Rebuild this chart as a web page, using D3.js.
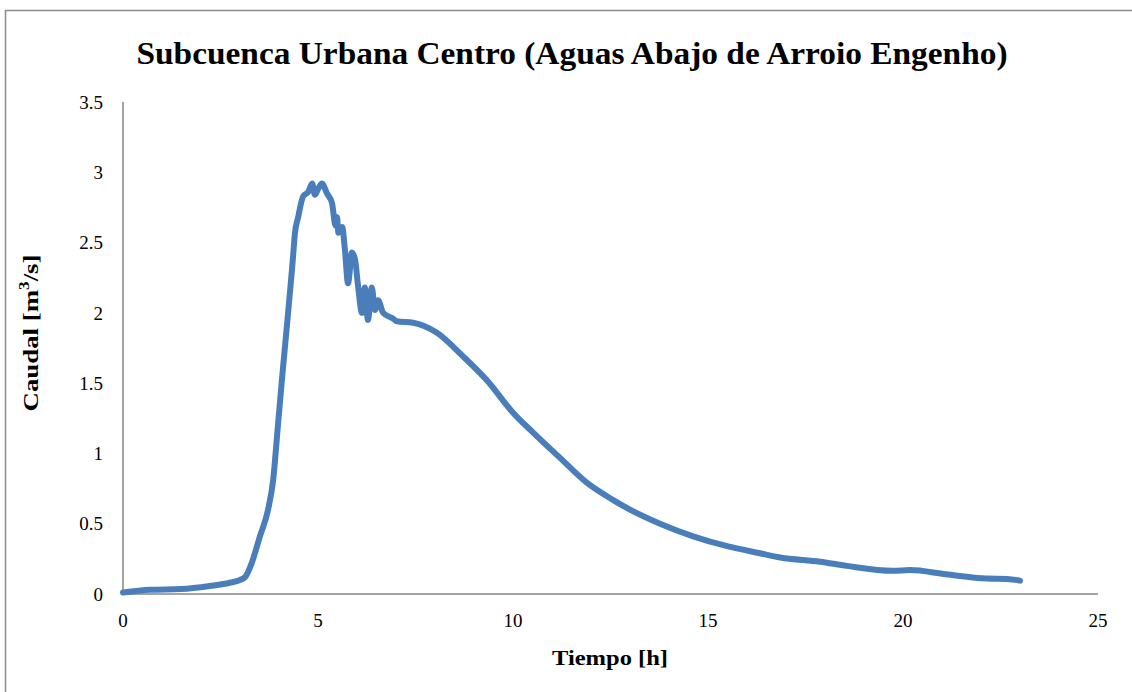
<!DOCTYPE html>
<html><head><meta charset="utf-8">
<script src="https://cdn.jsdelivr.net/npm/d3@7"></script>
<style>body{margin:0;background:#fff}svg{display:block}</style>
</head><body>
<svg id="c" width="1132" height="692"></svg>
<script>
const timeH = [0,0.69,1.5,2.23,2.74,3.0,3.13,3.3,3.51,3.72,3.85,3.97,4.08,4.2,4.33,4.36,4.41,4.49,4.62,4.75,4.85,4.92,5.0,5.1,5.23,5.36,5.45,5.49,5.52,5.62,5.69,5.77,5.87,5.95,6.02,6.13,6.2,6.28,6.38,6.46,6.54,6.67,6.92,7.02,7.44,8.04,8.72,9.33,10.0,10.51,11.2,11.9,12.56,13.0,13.77,14.62,15.49,16.33,16.85,17.87,18.56,19.74,20.18,21.1,22.15,22.67,23.0];
const caudal = [0.01,0.03,0.035,0.057,0.08,0.1,0.12,0.22,0.41,0.6,0.81,1.19,1.54,1.9,2.3,2.4,2.57,2.68,2.83,2.86,2.92,2.84,2.88,2.92,2.85,2.78,2.62,2.68,2.57,2.61,2.45,2.21,2.43,2.38,2.21,2.0,2.18,1.95,2.18,2.02,2.09,2.0,1.96,1.94,1.93,1.86,1.69,1.52,1.29,1.15,0.97,0.79,0.67,0.6,0.5,0.41,0.34,0.29,0.26,0.23,0.2,0.165,0.17,0.14,0.11,0.107,0.095];
const xTicks = [0,5,10,15,20,25];
const yTicks = [0,0.5,1,1.5,2,2.5,3,3.5];
const yTickLabels = ["0","0.5","1","1.5","2","2.5","3","3.5"];
const titleText = "Subcuenca Urbana Centro (Aguas Abajo de Arroio Engenho)";
const xTitle = "Tiempo [h]";

const svg = d3.select("#c");
const font = "'Liberation Serif','DejaVu Serif',serif";
svg.append("rect").attr("x",5.5).attr("y",10.5).attr("width",1140).attr("height",700)
  .attr("fill","#fff").attr("stroke","#8c8c8c").attr("stroke-width",1.5);

const x = d3.scaleLinear().domain([0,25]).range([123,1098]);
const y = d3.scaleLinear().domain([0,3.5]).range([594,102]);

svg.append("line").attr("x1",123).attr("x2",1098).attr("y1",594).attr("y2",594).attr("stroke","#868686").attr("stroke-width",1.5);
svg.append("line").attr("x1",123).attr("x2",123).attr("y1",102).attr("y2",594).attr("stroke","#868686").attr("stroke-width",1.5);

svg.append("g").selectAll("text").data(yTicks).join("text")
  .attr("x",103).attr("y",d=>y(d)).attr("dy","0.35em").attr("text-anchor","end")
  .attr("font-family",font).attr("font-size",19).attr("fill","#000")
  .text((d,i)=>yTickLabels[i]);
svg.append("g").selectAll("text").data(xTicks).join("text")
  .attr("x",d=>x(d)).attr("y",627).attr("text-anchor","middle")
  .attr("font-family",font).attr("font-size",19).attr("fill","#000")
  .text(d=>d);

const line = d3.line().x((d,i)=>x(timeH[i])).y(d=>y(d)).curve(d3.curveMonotoneX);
svg.append("path").datum(caudal).attr("d",line).attr("fill","none")
  .attr("stroke","#4a7ebb").attr("stroke-width",6).attr("stroke-linejoin","round").attr("stroke-linecap","round");

svg.append("text").attr("x",572).attr("y",64).attr("text-anchor","middle")
  .attr("font-family",font).attr("font-weight","bold").attr("font-size",32)
  .attr("textLength",871).attr("lengthAdjust","spacingAndGlyphs").text(titleText);
svg.append("text").attr("x",610).attr("y",665).attr("text-anchor","middle")
  .attr("font-family",font).attr("font-weight","bold").attr("font-size",22)
  .attr("textLength",116).attr("lengthAdjust","spacingAndGlyphs").text(xTitle);
const yl = svg.append("text").attr("transform","translate(38,333) rotate(-90)").attr("text-anchor","middle")
  .attr("font-family",font).attr("font-weight","bold").attr("font-size",22)
  .attr("textLength",157).attr("lengthAdjust","spacingAndGlyphs");
yl.append("tspan").text("Caudal [m");
yl.append("tspan").attr("font-size",14).attr("dy",-9).text("3");
yl.append("tspan").attr("dy",9).text("/s]");
</script>
</body></html>
